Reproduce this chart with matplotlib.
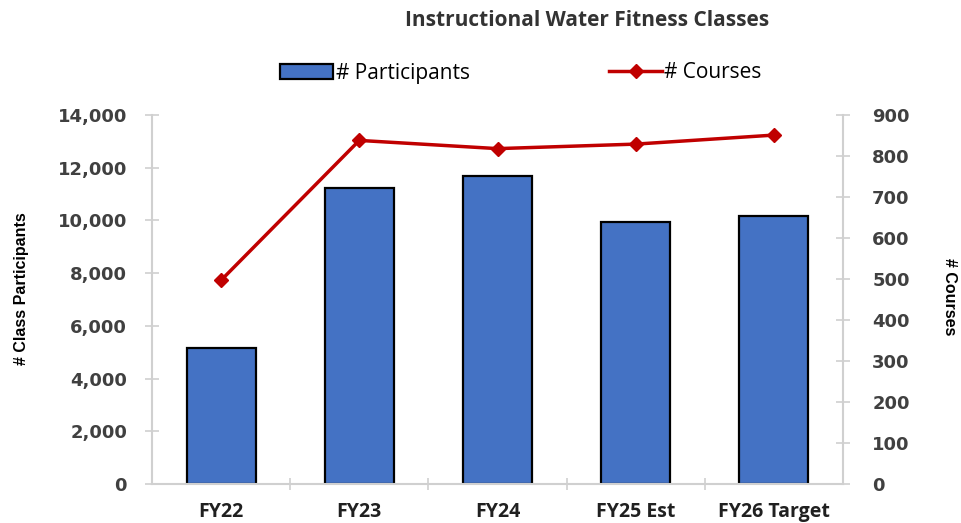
import matplotlib.pyplot as plt
import matplotlib.ticker as mticker
from matplotlib.patches import Patch
from matplotlib.lines import Line2D

# fiscal years and the two series
years = ["FY22", "FY23", "FY24", "FY25 Est", "FY26 Target"]
participants = [5160, 11230, 11680, 9940, 10170]
courses = [497, 838, 818, 829, 851]

bar_blue = "#4472C4"
line_red = "#C00000"
axis_gray = "#D0D0D0"
label_gray = "#404040"

fig = plt.figure(figsize=(9.62, 5.23), dpi=100)
ax = fig.add_axes([152 / 962, 1 - 484 / 523, (843 - 152) / 962, (484 - 115) / 523])
ax2 = ax.twinx()

x = list(range(len(years)))
ax.bar(x, participants, width=0.5, color=bar_blue, edgecolor="black", linewidth=1.6, zorder=2)
ax2.plot(x, courses, color=line_red, lw=2.5, marker="D", markersize=7, zorder=3)

ax.set_xlim(-0.5, len(years) - 0.5)
ax.set_ylim(0, 14000)
ax2.set_ylim(0, 900)
ax.set_yticks(range(0, 14001, 2000))
ax2.set_yticks(range(0, 901, 100))
ax.yaxis.set_major_formatter(mticker.FuncFormatter(lambda v, p: f"{int(v):,}"))

# category boundaries get the x tick marks, labels sit at bar centres
ax.set_xticks(x)
ax.set_xticklabels(years, fontsize=14, fontweight="bold", color="#202020",
                   family="Open Sans")
ax.set_xticks([i + 0.5 for i in x[:-1]], minor=True)
ax.tick_params(axis="x", which="major", length=0, pad=13)
ax.tick_params(axis="x", which="minor", length=8, direction="inout", color=axis_gray, width=1.2)

for a in (ax, ax2):
    for s in a.spines.values():
        s.set_visible(False)
ax.spines["left"].set_visible(True)
ax.spines["left"].set_color(axis_gray)
ax.spines["left"].set_linewidth(1.5)
ax.spines["bottom"].set_visible(True)
ax.spines["bottom"].set_color(axis_gray)
ax.spines["bottom"].set_linewidth(1.5)
ax2.spines["right"].set_visible(True)
ax2.spines["right"].set_color(axis_gray)
ax2.spines["right"].set_linewidth(1.5)

ax.tick_params(axis="y", length=10, direction="inout", color=axis_gray, width=1.2,
               labelsize=13, labelcolor=label_gray, pad=13)
ax2.tick_params(axis="y", length=10, direction="inout", color=axis_gray, width=1.2,
                labelsize=13, labelcolor=label_gray, pad=16)
for t in ax.get_yticklabels() + ax2.get_yticklabels():
    t.set_fontweight("bold")

ax.set_ylabel("# Class Participants", fontsize=11.5, fontweight="bold",
              family="Liberation Sans", va="center")
ax.yaxis.set_label_coords((21 - 152) / 691, (484 - 289) / 369)
ax2.set_ylabel("# Courses", fontsize=11.5, fontweight="bold", rotation=270,
               family="Liberation Sans", va="center")
ax2.yaxis.set_label_coords((950 - 152) / 691, (484 - 297) / 369)

fig.text(587 / 962, 1 - 21 / 523, "Instructional Water Fitness Classes", ha="center", va="center",
         fontsize=15, fontweight="bold", family="Open Sans", color="#333333")

handles = [Patch(facecolor=bar_blue, edgecolor="black", linewidth=1.6),
           Line2D([0], [0], color=line_red, lw=2.5, marker="D", markersize=7)]
fig.legend(handles, ["# Participants", "# Courses"], loc="center", bbox_to_anchor=(521 / 962, 1 - 73 / 523),
           ncol=2, frameon=False, columnspacing=6.7, handlelength=2.55, handletextpad=0.1,
           prop={"family": "Open Sans", "size": 15})

fig.savefig("out.png", dpi=100)
